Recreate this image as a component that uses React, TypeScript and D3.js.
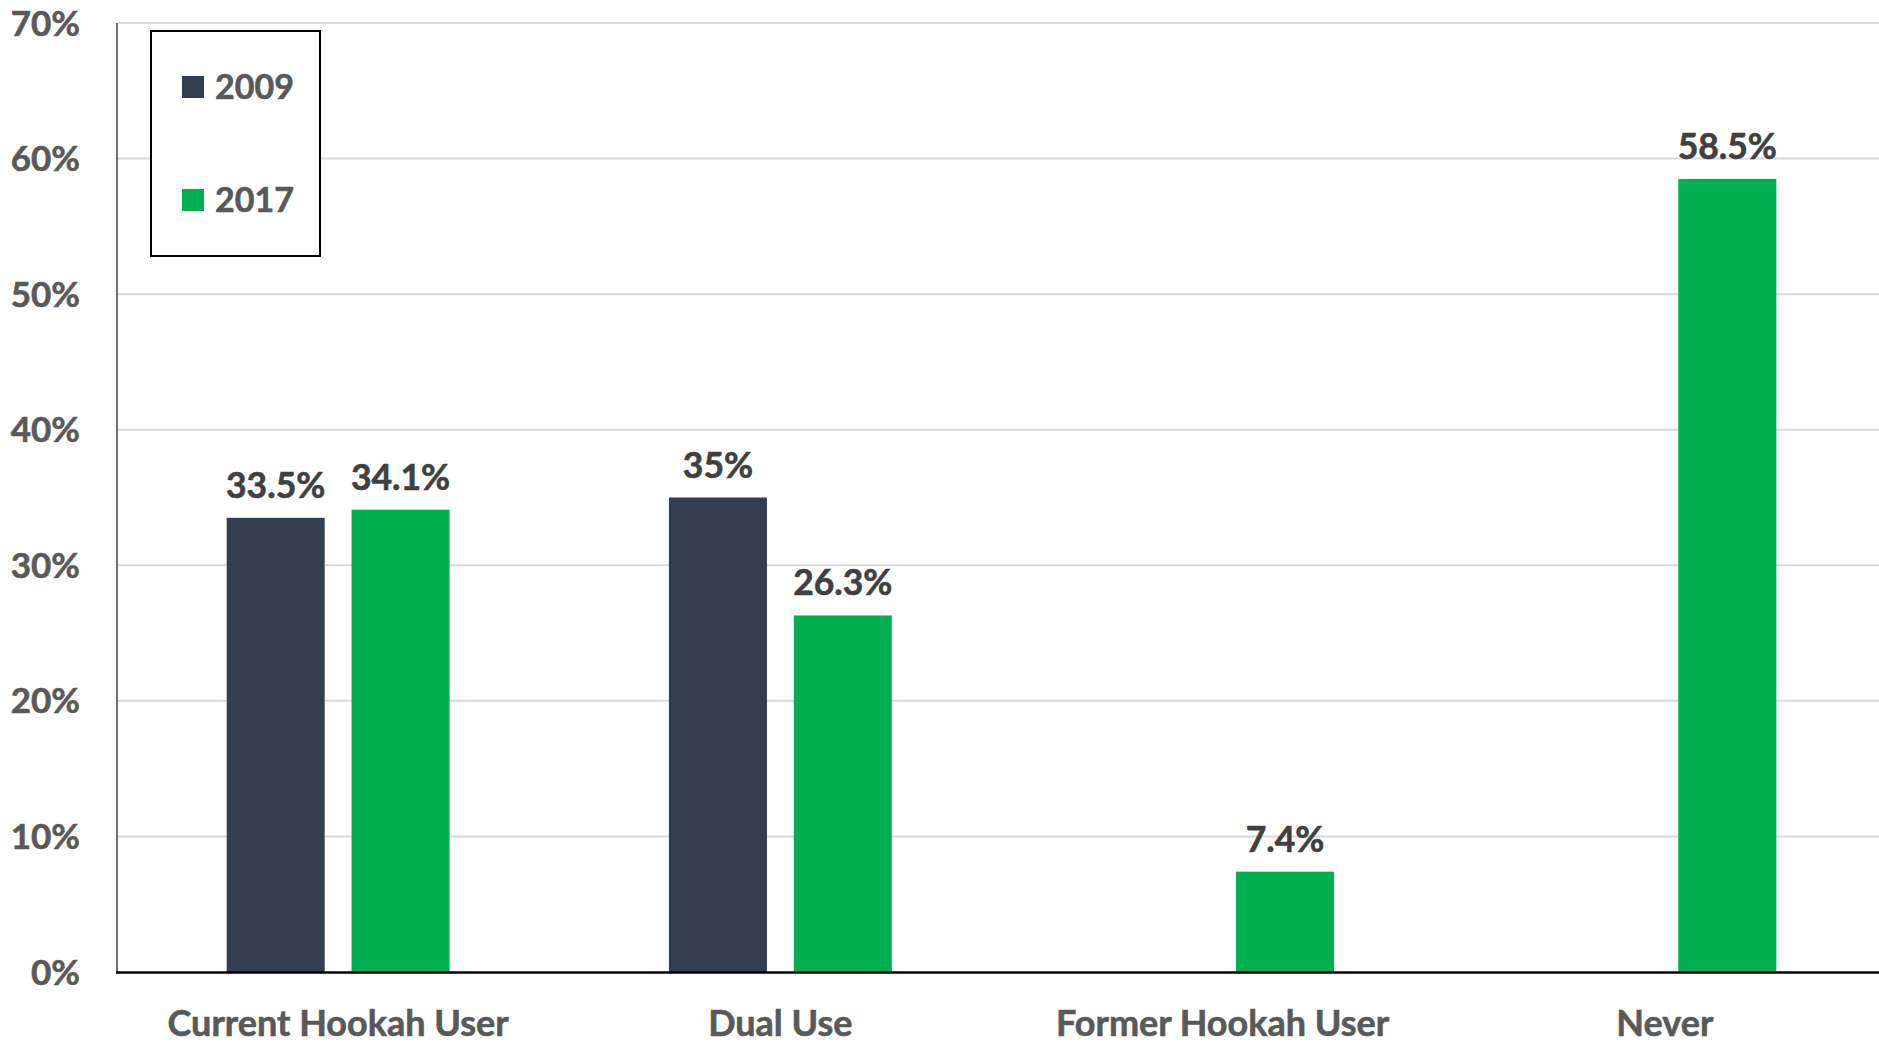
import React from "react";
import * as d3 from "d3";

const categories = ["Current Hookah User", "Dual Use", "Former Hookah User", "Never"];
const seriesNames = ["2009", "2017"];
const values2009: (number | null)[] = [33.5, 35, null, null];
const values2017: (number | null)[] = [34.1, 26.3, 7.4, 58.5];
const yTicks = [0, 10, 20, 30, 40, 50, 60, 70];
const colors = ["#333F50", "#00B050"];

const W = 1879;
const H = 1042;
const FONT = "Lato, 'Open Sans', sans-serif";

export default function App() {
  const x0 = d3
    .scaleBand<string>()
    .domain(categories)
    .range([117, 1886])
    .paddingInner(0.496)
    .paddingOuter(0.248);
  const x1 = d3
    .scaleBand<string>()
    .domain(seriesNames)
    .range([0, x0.bandwidth()])
    .paddingInner(0.215)
    .paddingOuter(0);
  const y = d3.scaleLinear().domain([0, 70]).range([972, 23]);

  const seriesValues = [values2009, values2017];
  const thick = { stroke: "currentColor", strokeWidth: 0.6 };

  return (
    <svg
      width={W}
      height={H}
      style={{ position: "absolute", left: 0, top: 0, background: "#fff" }}
      fontFamily={FONT}
    >
      <rect x={0} y={0} width={W} height={H} fill="#fff" />
      {/* gridlines */}
      {yTicks
        .filter((t) => t > 0)
        .map((t) => (
          <line key={t} x1={117} x2={W} y1={y(t)} y2={y(t)} stroke="#D9D9D9" strokeWidth={2} />
        ))}
      {/* y tick labels */}
      {yTicks.map((t) => (
        <text
          key={t}
          x={80}
          y={y(t) + 12.5}
          textAnchor="end"
          fontSize={35}
          fontWeight={700}
          fill="#595959"
          color="#595959"
          {...thick}
        >
          {t}%
        </text>
      ))}
      {/* bars */}
      {categories.map((c, ci) =>
        seriesNames.map((s, si) => {
          const v = seriesValues[si][ci];
          if (v == null) return null;
          const bx = (x0(c) ?? 0) + (x1(s) ?? 0);
          return (
            <g key={c + s}>
              <rect x={bx} y={y(v)} width={x1.bandwidth()} height={y(0) - y(v)} fill={colors[si]} />
              <text
                x={bx + x1.bandwidth() / 2}
                y={y(v) - 20}
                textAnchor="middle"
                fontSize={35.5}
                fontWeight={700}
                fill="#404040"
                color="#404040"
                {...thick}
              >
                {v}%
              </text>
            </g>
          );
        })
      )}
      {/* axes */}
      <line x1={117} x2={117} y1={23} y2={972} stroke="#404040" strokeWidth={1.5} />
      <line x1={116} x2={W} y1={972.5} y2={972.5} stroke="#000" strokeWidth={2.5} />
      {/* category labels */}
      {categories.map((c) => (
        <text
          key={c}
          x={(x0(c) ?? 0) + x0.bandwidth() / 2}
          y={1036}
          textAnchor="middle"
          fontSize={36}
          fontWeight={700}
          fill="#595959"
          color="#595959"
          {...thick}
        >
          {c}
        </text>
      ))}
      {/* legend */}
      <rect x={151} y={31} width={169} height={225} fill="#fff" stroke="#000" strokeWidth={2} />
      {seriesNames.map((s, i) => (
        <g key={s}>
          <rect x={182} y={76 + i * 113} width={22} height={22} fill={colors[i]} />
          <text
            x={215}
            y={99 + i * 113}
            fontSize={34}
            fontWeight={700}
            fill="#595959"
            color="#595959"
            {...thick}
          >
            {s}
          </text>
        </g>
      ))}
    </svg>
  );
}
